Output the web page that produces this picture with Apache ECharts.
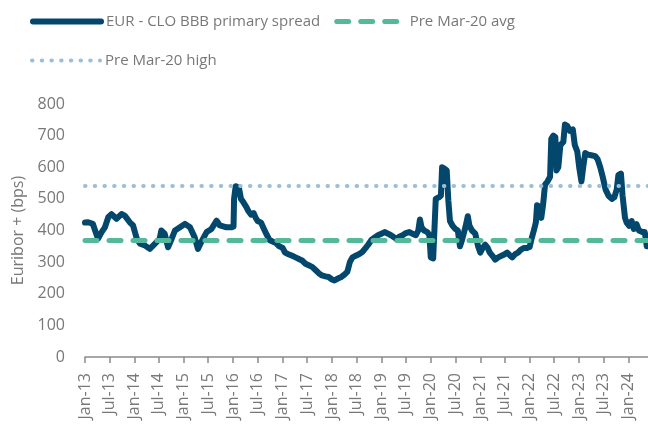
<!DOCTYPE html>
<html><head><meta charset="utf-8">
<script src="https://cdn.jsdelivr.net/npm/echarts@6/dist/echarts.min.js"></script>
<style>html,body{margin:0;padding:0;background:#fff}#c{width:648px;height:425px}</style>
</head><body><div id="c"></div>
<script>
const seriesName = 'EUR - CLO BBB primary spread';
const avgName = 'Pre Mar-20 avg';
const highName = 'Pre Mar-20 high';

const dates = [
 '2013-01-01','2013-01-25','2013-02-28','2013-03-13','2013-04-07','2013-05-04','2013-05-28','2013-06-22','2013-07-16','2013-08-22',
 '2013-09-28','2013-10-22','2013-11-28','2013-12-22',
 '2014-01-19','2014-02-13','2014-03-19','2014-04-25','2014-06-01','2014-07-07','2014-07-19','2014-08-13','2014-09-07','2014-10-04',
 '2014-10-28','2014-12-04',
 '2015-01-10','2015-02-16','2015-03-22','2015-04-16','2015-05-10','2015-06-19','2015-07-25','2015-09-01','2015-09-25','2015-11-13',
 '2015-12-19',
 '2016-01-04','2016-01-08','2016-01-20','2016-02-01','2016-02-13','2016-02-28','2016-03-16','2016-04-07','2016-04-25','2016-05-13',
 '2016-06-01','2016-06-16','2016-07-01','2016-07-25','2016-08-16','2016-09-07','2016-09-25','2016-10-19','2016-11-13','2016-12-07',
 '2017-01-01','2017-01-19','2017-02-13','2017-03-13','2017-04-07','2017-05-01','2017-05-25','2017-06-19','2017-07-13','2017-08-07',
 '2017-09-01','2017-09-25','2017-10-19','2017-11-13','2017-12-07',
 '2018-01-01','2018-01-19','2018-02-13','2018-03-07','2018-04-01','2018-04-25','2018-05-13','2018-06-01','2018-06-25','2018-07-19',
 '2018-08-13','2018-09-07','2018-09-25','2018-10-19','2018-11-13','2018-12-07',
 '2019-01-01','2019-01-25','2019-02-19','2019-03-13','2019-04-07','2019-04-25','2019-05-13','2019-06-07','2019-07-01','2019-07-25',
 '2019-08-19','2019-09-13','2019-10-01','2019-10-13','2019-10-25','2019-11-13','2019-12-07','2019-12-22',
 '2020-01-01','2020-01-19','2020-02-01','2020-02-07','2020-03-01','2020-03-16','2020-03-25','2020-04-13','2020-04-28','2020-05-10',
 '2020-05-22','2020-06-10','2020-07-01','2020-07-19','2020-08-04','2020-08-19','2020-09-13','2020-10-01','2020-10-13','2020-11-01',
 '2020-11-25','2020-12-16',
 '2021-01-01','2021-01-19','2021-02-07','2021-02-25','2021-03-13','2021-04-01','2021-04-22','2021-05-13','2021-06-07','2021-07-01',
 '2021-07-19','2021-08-07','2021-08-25','2021-09-16','2021-10-07','2021-10-25','2021-11-19','2021-12-13',
 '2022-01-01','2022-01-16','2022-02-01','2022-02-16','2022-02-25','2022-03-13','2022-03-28','2022-04-10','2022-04-25','2022-05-13',
 '2022-06-01','2022-06-10','2022-06-25','2022-07-10','2022-07-19','2022-08-01','2022-08-16','2022-09-07','2022-09-19','2022-10-07',
 '2022-10-25','2022-11-16','2022-12-01','2022-12-19',
 '2023-01-04','2023-01-19','2023-02-01','2023-02-16','2023-03-07','2023-04-01','2023-05-01','2023-05-19','2023-06-07','2023-06-25',
 '2023-07-16','2023-08-07','2023-09-01','2023-09-19','2023-10-07','2023-10-19','2023-11-07','2023-11-19','2023-12-07','2023-12-19',
 '2024-01-07','2024-01-25','2024-02-10','2024-03-01','2024-03-19','2024-04-13','2024-05-01','2024-05-12','2024-05-16','2024-05-25'
];
const spread = [
 425,426,421,405,374,395,410,442,452,437,
 452,447,426,416,
 374,358,353,342,358,374,400,390,347,374,
 400,410,
 421,410,379,342,363,395,405,431,416,410,
 410,
 412,500,540,545,535,500,490,475,460,450,
 455,440,430,425,405,385,370,365,360,350,
 345,330,325,320,315,310,305,295,290,285,
 275,265,258,255,253,
 245,242,248,252,260,270,300,315,320,325,
 332,345,355,370,378,385,
 390,395,390,385,378,372,380,385,392,395,
 390,385,400,435,410,400,395,385,
 315,312,318,500,505,510,600,595,590,495,
 430,415,405,400,350,370,410,445,415,400,
 390,350,
 330,345,355,345,330,320,308,315,320,325,
 330,322,315,325,330,338,345,345,
 348,375,400,425,480,475,440,480,545,555,
 570,690,700,695,590,600,670,680,735,730,
 715,720,670,650,
 595,555,600,645,640,638,635,625,600,570,
 530,510,500,505,530,575,580,510,440,425,
 415,430,405,420,400,395,395,395,350,350
];
const preMar20Avg = 370;
const preMar20High = 543;
const tickLabels = ['Jan-13','Jul-13','Jan-14','Jul-14','Jan-15','Jul-15','Jan-16','Jul-16','Jan-17','Jul-17','Jan-18','Jul-18',
 'Jan-19','Jul-19','Jan-20','Jul-20','Jan-21','Jul-21','Jan-22','Jul-22','Jan-23','Jul-23','Jan-24'];
const axisStart = '2013-01-01';
const axisEnd = '2024-05-25';

function toTime(s) {
  const [y, m, d] = s.split('-').map(Number);
  return new Date(y, m - 1, d).getTime();
}
const monthIdx = {Jan: 1, Jul: 7};
const tickValues = tickLabels.map(l => {
  const [m, y] = l.split('-');
  return toTime((2000 + (+y)) + '-' + monthIdx[m] + '-1');
});
const labelOf = {};
tickValues.forEach((v, i) => { labelOf[v] = tickLabels[i]; });

const textColor = '#787878';
const font = "'Open Sans', sans-serif";
const navy = '#03476c';
const green = '#54b99b';
const lightBlue = '#9cbfd8';

const chart = echarts.init(document.getElementById('c'), null, {renderer: 'canvas'});
chart.setOption({
  animation: false,
  textStyle: {fontFamily: font},
  grid: {left: 85, right: 0, top: 104, bottom: 68, containLabel: false},
  legend: [
    {
      left: 25, top: 9, itemWidth: 68, itemHeight: 14, itemGap: 14,
      textStyle: {fontSize: 15, color: textColor, fontFamily: font},
      data: [
        {name: seriesName, itemStyle: {opacity: 0}, lineStyle: {width: 6, cap: 'round'}},
        {name: avgName, itemStyle: {opacity: 0}, lineStyle: {width: 5, cap: 'round'}}
      ]
    },
    {
      left: 25, top: 48, itemWidth: 68, itemHeight: 14,
      textStyle: {fontSize: 15, color: textColor, fontFamily: font},
      data: [{name: highName, itemStyle: {opacity: 0}, lineStyle: {width: 4, cap: 'round'}}]
    }
  ],
  xAxis: {
    type: 'value',
    min: toTime(axisStart), max: toTime(axisEnd),
    splitLine: {show: false},
    axisLine: {show: true, lineStyle: {color: '#8a8a8a', width: 1.5}},
    axisTick: {show: true, customValues: tickValues, length: 6, lineStyle: {color: '#8a8a8a', width: 1.5}},
    axisLabel: {
      customValues: tickValues, rotate: 90, margin: 16, fontSize: 16, color: textColor, fontFamily: font,
      formatter: v => labelOf[v] || ''
    }
  },
  yAxis: {
    type: 'value', min: 0, max: 800, interval: 100,
    name: 'Euribor + (bps)', nameLocation: 'middle', nameGap: 58,
    nameTextStyle: {fontSize: 16, color: textColor, fontFamily: font},
    axisLine: {show: false}, axisTick: {show: false}, splitLine: {show: false},
    axisLabel: {fontSize: 16, color: textColor, margin: 20, fontFamily: font}
  },
  series: [
    {
      name: seriesName, type: 'line', symbol: 'none', showSymbol: false,
      data: dates.map((d, i) => [toTime(d), spread[i]]),
      lineStyle: {color: navy, width: 6, join: 'round', cap: 'round'},
      itemStyle: {color: navy}, z: 2
    },
    {
      name: avgName, type: 'line', symbol: 'none', data: [],
      lineStyle: {color: green, width: 5, type: [12, 12], cap: 'round'},
      itemStyle: {color: green}, z: 3,
      markLine: {silent: true, symbol: 'none', label: {show: false},
        lineStyle: {color: green, width: 5, type: [12, 12], cap: 'round'},
        data: [{yAxis: preMar20Avg}]}
    },
    {
      name: highName, type: 'line', symbol: 'none', data: [],
      lineStyle: {color: lightBlue, width: 4, type: [0.5, 9.2], cap: 'round'},
      itemStyle: {color: lightBlue}, z: 3,
      markLine: {silent: true, symbol: 'none', label: {show: false},
        lineStyle: {color: lightBlue, width: 4, type: [0.5, 9.2], cap: 'round'},
        data: [{yAxis: preMar20High}]}
    }
  ]
});
</script></body></html>
